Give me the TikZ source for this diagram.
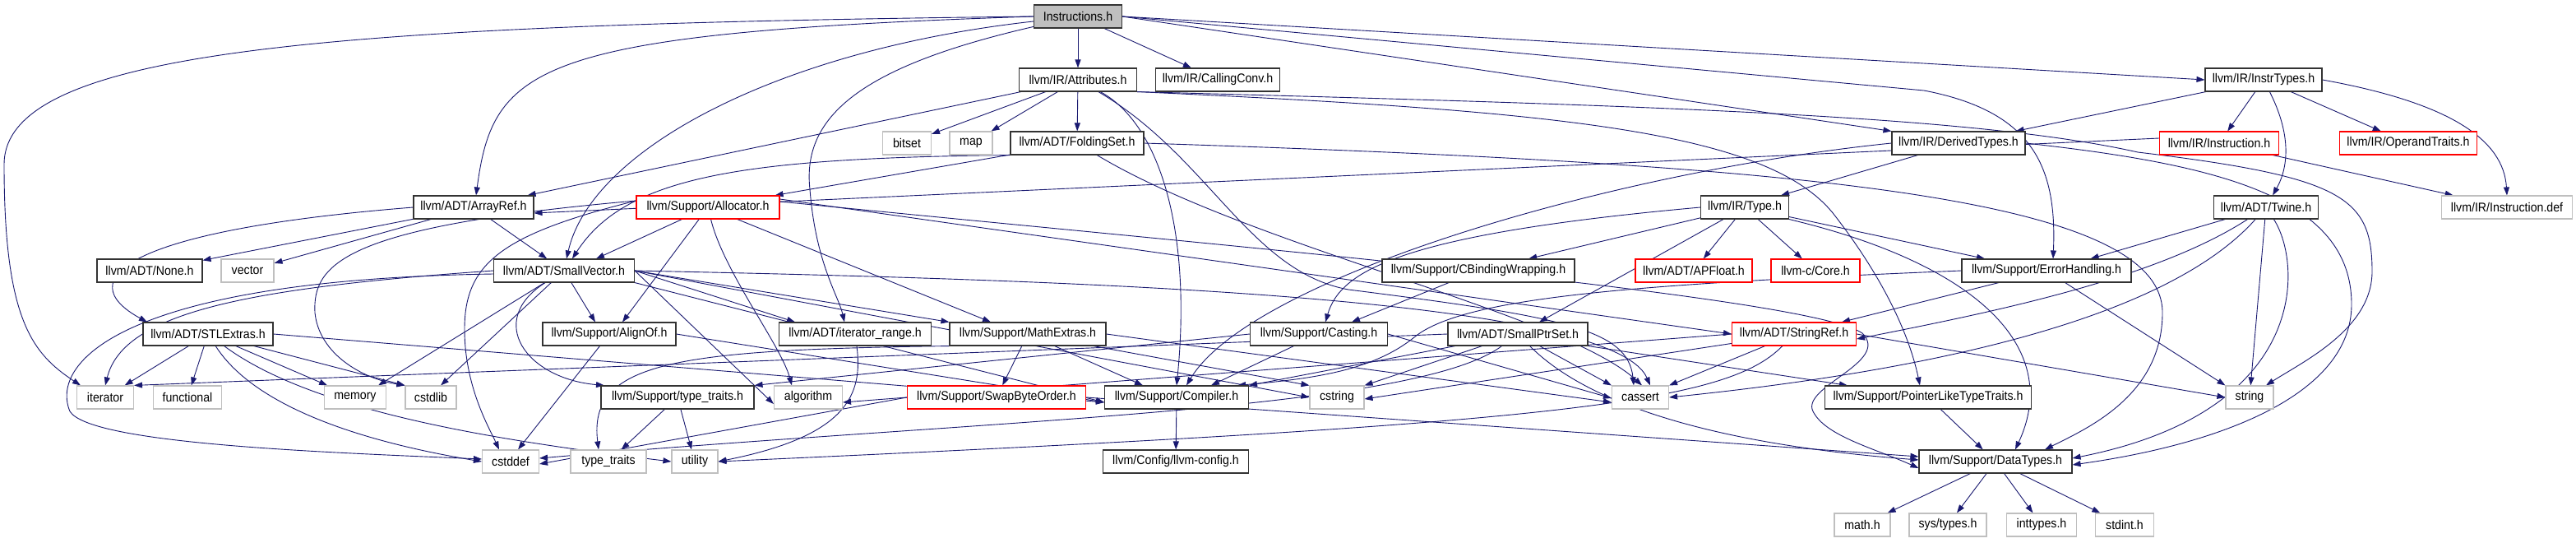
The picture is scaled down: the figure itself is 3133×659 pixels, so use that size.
\documentclass[tikz,border=0pt]{standalone}
\usepackage{fontspec}
\setmainfont{Liberation Sans}[FakeStretch=0.92]
\usetikzlibrary{arrows.meta}
\definecolor{eblue}{HTML}{191970}
\definecolor{gborder}{HTML}{BFBFBF}
\definecolor{rootfill}{HTML}{BFBFBF}
\definecolor{nborder}{HTML}{333333}
\pgfdeclarelayer{bg}
\pgfsetlayers{bg,main}
\newcommand\fsz{\fontsize{15.4}{17}\selectfont}
\tikzset{
  nb/.style={draw=nborder, line width=1.1pt, fill=white, minimum height=28pt, inner sep=0pt, font=\fsz},
  gb/.style={nb, draw=gborder},
  rb/.style={nb, draw=red},
  root/.style={nb, fill=rootfill},
  e/.style={draw=eblue, line width=0.9pt, -{Triangle[length=10pt,width=7pt,fill=eblue]}},
}
\begin{document}
\begin{tikzpicture}[x=1pt,y=-1pt]
\useasboundingbox (0,0) rectangle (3133,659);
% row 0
\node[root,minimum width=107pt] (instr) at (1311,20) {Instructions.h};
% row 1
\node[nb,minimum width=143pt] (attr) at (1311,97) {llvm/IR/Attributes.h};
\node[nb,minimum width=151pt] (callconv) at (1481,97) {llvm/IR/CallingConv.h};
\node[nb,minimum width=142pt] (instrtypes) at (2753,97) {llvm/IR/InstrTypes.h};
% row 2
\node[gb,minimum width=59pt] (bitset) at (1103,174) {bitset};
\node[gb,minimum width=52pt] (map) at (1181,174) {map};
\node[nb,minimum width=162pt] (folding) at (1310,174) {llvm/ADT/FoldingSet.h};
\node[nb,minimum width=162pt] (derived) at (2382,174) {llvm/IR/DerivedTypes.h};
\node[rb,minimum width=145pt] (instruction) at (2699,174) {llvm/IR/Instruction.h};
\node[rb,minimum width=167pt] (operand) at (2929,174) {llvm/IR/OperandTraits.h};
% row 3
\node[nb,minimum width=146pt] (arrayref) at (576,252) {llvm/ADT/ArrayRef.h};
\node[rb,minimum width=174pt] (allocator) at (861,252) {llvm/Support/Allocator.h};
\node[nb,minimum width=107pt] (type) at (2122,252) {llvm/IR/Type.h};
\node[nb,minimum width=127pt] (twine) at (2756,252) {llvm/ADT/Twine.h};
\node[gb,minimum width=159pt] (instdef) at (3049,252) {llvm/IR/Instruction.def};
% row 4
\node[nb,minimum width=128pt] (none) at (182,329) {llvm/ADT/None.h};
\node[gb,minimum width=64pt] (vector) at (301,329) {vector};
\node[nb,minimum width=171pt] (smallvec) at (686,329) {llvm/ADT/SmallVector.h};
\node[nb,minimum width=234pt] (cbinding) at (1798,329) {llvm/Support/CBindingWrapping.h};
\node[rb,minimum width=142pt] (apfloat) at (2060,329) {llvm/ADT/APFloat.h};
\node[rb,minimum width=108pt] (core) at (2208,329) {llvm-c/Core.h};
\node[nb,minimum width=206pt] (errhand) at (2489,329) {llvm/Support/ErrorHandling.h};
% row 5
\node[nb,minimum width=158pt] (stlextras) at (253,406) {llvm/ADT/STLExtras.h};
\node[nb,minimum width=162pt] (alignof) at (741,406) {llvm/Support/AlignOf.h};
\node[nb,minimum width=185pt] (itrange) at (1040,406) {llvm/ADT/iterator\_range.h};
\node[nb,minimum width=190pt] (mathext) at (1250,406) {llvm/Support/MathExtras.h};
\node[nb,minimum width=167pt] (casting) at (1604,406) {llvm/Support/Casting.h};
\node[nb,minimum width=170pt] (smallptr) at (1846,406) {llvm/ADT/SmallPtrSet.h};
\node[rb,minimum width=151pt] (stringref) at (2182,406) {llvm/ADT/StringRef.h};
% row 6
\node[gb,minimum width=69pt] (iterator) at (128,483) {iterator};
\node[gb,minimum width=83pt] (functional) at (228,483) {functional};
\node[gb,minimum width=75pt] (memory) at (432,483) {memory};
\node[gb,minimum width=62pt] (cstdlib) at (524,483) {cstdlib};
\node[nb,minimum width=186pt] (typetraitsh) at (824,483) {llvm/Support/type\_traits.h};
\node[gb,minimum width=83pt] (algorithm) at (983,483) {algorithm};
\node[rb,minimum width=217pt] (swap) at (1212,483) {llvm/Support/SwapByteOrder.h};
\node[nb,minimum width=175pt] (compiler) at (1431,483) {llvm/Support/Compiler.h};
\node[gb,minimum width=66pt] (cstring) at (1626,483) {cstring};
\node[gb,minimum width=69pt] (cassert) at (1995,483) {cassert};
\node[nb,minimum width=251pt] (pointerlike) at (2345,483) {llvm/Support/PointerLikeTypeTraits.h};
\node[gb,minimum width=58pt] (string) at (2736,483) {string};
% row 7
\node[gb,minimum width=69pt] (cstddef) at (621,561) {cstddef};
\node[gb,minimum width=92pt] (typetraits) at (740,561) {type\_traits};
\node[gb,minimum width=56pt] (utility) at (845,561) {utility};
\node[nb,minimum width=177pt] (llvmconfig) at (1430,561) {llvm/Config/llvm-config.h};
\node[nb,minimum width=186pt] (datatypes) at (2427,561) {llvm/Support/DataTypes.h};
% row 8
\node[gb,minimum width=68pt] (math) at (2265,638) {math.h};
\node[gb,minimum width=94pt] (systypes) at (2369,638) {sys/types.h};
\node[gb,minimum width=85pt] (inttypes) at (2483,638) {inttypes.h};
\node[gb,minimum width=71pt] (stdint) at (2584,638) {stdint.h};

\begin{pgfonlayer}{bg}
\fill[white] (0,0) rectangle (3133,659);
% Instructions.h
\draw[e] (instr.west) .. controls (400,30) and (5,60) .. (5,200) .. controls (5,390) and (40,430) .. ([xshift=-30]iterator.north);
\draw[e] (instr.west) .. controls (650,40) and (600,80) .. ([xshift=3]arrayref.north);
\draw[e] (instr) .. controls (950,60) and (720,180) .. ([xshift=3]smallvec.north);
\draw[e] (instr) -- (attr);
\draw[e] (instr) -- (callconv);
\draw[e] (instr.east) -- (instrtypes.west);
\draw[e] (instr.east) -- (derived.north west);
\draw[e] (instr.east) -- (2340,110) .. controls (2470,135) and (2502,200) .. ([xshift=8]errhand.north);
\draw[e] (instr) .. controls (1050,80) and (975,140) .. (985,230) .. controls (992,320) and (1020,360) .. ([xshift=-13]itrange.north);
% Attributes.h
\draw[e] (attr) -- ([xshift=-8]arrayref.north east);
\draw[e] (attr) -- (bitset);
\draw[e] (attr) -- (map);
\draw[e] (attr) -- (folding);
\draw[e] (attr) .. controls (1410,150) and (1450,280) .. (compiler.north);
\draw[e] (attr) .. controls (1470,190) and (1520,330) .. (1640,352) .. controls (1900,385) and (1980,400) .. ([xshift=-8]cassert.north);
\draw[e] (attr.south east) .. controls (1900,135) and (2150,160) .. (2230,260) .. controls (2300,350) and (2325,420) .. ([xshift=-10]pointerlike.north);
\draw[e] (attr.south east) .. controls (2000,128) and (2400,140) .. (2600,185) .. controls (2850,215) and (2885,240) .. (2885,330) .. controls (2885,400) and (2800,440) .. ([xshift=20]string.north);
% InstrTypes.h
\draw[e] (instrtypes) -- ([xshift=-12]derived.north east);
\draw[e] (instrtypes) -- (instruction);
\draw[e] (instrtypes) .. controls (2785,160) and (2785,200) .. (twine);
\draw[e] (instrtypes) -- (operand);
\draw[e] (instrtypes.east) .. controls (2980,125) and (3045,170) .. (instdef.north);
% Instruction.h
\draw[e] (instruction) -- (instdef);
\draw[e] ([yshift=6]instruction.west) -- ([yshift=-7]arrayref.east);
% FoldingSet.h
\draw[e] (folding.south west) .. controls (900,192) and (760,215) .. ([xshift=10]smallvec.north);
\draw[e] (folding) -- ([xshift=-6]allocator.north east);
\draw[e] (folding.east) .. controls (2200,200) and (2630,240) .. (2630,380) .. controls (2630,480) and (2540,520) .. ([xshift=60]datatypes.north);
\draw[e] (folding) .. controls (1520,300) and (1900,380) .. ([xshift=2]cassert.north);
% DerivedTypes.h
\draw[e] (derived) -- ([xshift=-10]type.north east);
\draw[e] (derived.west) .. controls (1950,210) and (1520,340) .. ([xshift=12]compiler.north);
\draw[e] (derived.east) .. controls (2700,200) and (2860,240) .. (2860,370) .. controls (2860,480) and (2700,540) .. ([yshift=-4]datatypes.east);
% ArrayRef.h
\draw[e] (arrayref) -- (none);
\draw[e] (arrayref) -- (vector);
\draw[e] (arrayref) -- (smallvec);
\draw[e] (arrayref.west) .. controls (150,280) and (85,340) .. ([xshift=-74]stlextras.north);
% Allocator.h
\draw[e] (allocator) -- ([xshift=39]smallvec.north);
\draw[e] (allocator) -- ([xshift=16]alignof.north);
\draw[e] (allocator) .. controls (880,330) and (950,420) .. ([xshift=-20]algorithm.north);
\draw[e] (allocator) -- ([xshift=-45]mathext.north);
\draw[e] ([yshift=10]allocator.east) -- (stringref.west);
\draw[e] ([yshift=7]allocator.east) .. controls (1500,300) and (2200,360) .. (2265,405) .. controls (2300,440) and (2190,470) .. (2205,500) .. controls (2220,530) and (2280,545) .. ([yshift=-8]datatypes.west);
\draw[e] ([yshift=8]allocator.west) .. controls (420,275) and (380,320) .. (383,380) .. controls (388,430) and (440,460) .. (cstdlib.north west);
\draw[e] ([yshift=8]allocator.west) .. controls (610,285) and (565,320) .. (565,400) .. controls (565,470) and (595,520) .. ([xshift=-14]cstddef.north);
% Type.h
\draw[e] (type.west) .. controls (1700,285) and (1630,330) .. ([xshift=8]casting.north);
\draw[e] (type) -- (cbinding);
\draw[e] (type) -- (smallptr);
\draw[e] (type) -- (apfloat);
\draw[e] (type) -- (core);
\draw[e] (type) -- ([xshift=-75]errhand.north);
\draw[e] (type.south east) .. controls (2400,320) and (2510,420) .. ([xshift=24]datatypes.north);
% Twine.h
\draw[e] (twine) -- ([xshift=-50]errhand.north east);
\draw[e] (twine) .. controls (2620,340) and (2420,380) .. ([yshift=-6]stringref.east);
\draw[e] (twine) .. controls (2660,360) and (2450,440) .. (cassert.east);
\draw[e] (twine) -- (string);
\draw[e] (twine) .. controls (2800,320) and (2810,500) .. ([yshift=4]datatypes.east);
% ErrorHandling.h
\draw[e] (errhand.west) .. controls (2000,345) and (1780,360) .. (1720,410) .. controls (1670,450) and (1600,460) .. ([xshift=-14]compiler.north east);
\draw[e] (errhand) -- ([xshift=58]stringref.north);
\draw[e] (errhand) -- (string.north west);
% SmallVector.h
\draw[e] (smallvec.west) .. controls (300,350) and (150,380) .. (iterator.north);
\draw[e] ([yshift=-4]smallvec.west) .. controls (150,340) and (60,440) .. (85,500) .. controls (110,540) and (400,550) .. ([yshift=3]cstddef.west);
\draw[e] (smallvec) -- ([xshift=-10]memory.north east);
\draw[e] (smallvec) -- ([xshift=12]cstdlib.north);
\draw[e] (smallvec) .. controls (590,390) and (640,460) .. ([xshift=-89]typetraitsh.north);
\draw[e] (smallvec) -- ([xshift=-17]alignof.north);
\draw[e] (smallvec.south east) -- ([yshift=-6]compiler.west);
\draw[e] (smallvec.east) -- (mathext.north west);
\draw[e] (smallvec.east) -- ([xshift=-73]itrange.north);
\draw[e] (smallvec.east) .. controls (1300,340) and (1960,360) .. ([xshift=12]cassert.north);
\draw[e] (smallvec.east) -- (cstring.west);
\draw[e] (smallvec.east) -- ([yshift=-8]algorithm.west);
% STLExtras.h
\draw[e] (stlextras) -- (iterator);
\draw[e] (stlextras) -- (functional);
\draw[e] (stlextras) .. controls (300,480) and (400,530) .. (cstddef.west);
\draw[e] (stlextras) .. controls (380,500) and (600,535) .. (utility.west);
\draw[e] (stlextras) -- (memory);
\draw[e] (stlextras) -- (cstdlib.north west);
\draw[e] (stlextras.east) -- ([yshift=-6]compiler.west);
% AlignOf.h
\draw[e] (alignof) -- ([xshift=9]cstddef.north);
\draw[e] (alignof.east) -- ([yshift=-6]compiler.west);
% iterator_range.h
\draw[e] (itrange) .. controls (1050,480) and (1030,530) .. (utility.east);
% MathExtras.h
\draw[e] (mathext) -- (swap);
\draw[e] (mathext) -- ([xshift=-41]compiler.north);
\draw[e] (mathext.south west) .. controls (820,425) and (715,440) .. ([xshift=-12]typetraits.north);
\draw[e] (mathext.east) -- ([yshift=-6]cassert.west);
\draw[e] (mathext) -- (cstring.north west);
% Casting.h
\draw[e] (casting.west) -- (typetraitsh.north east);
\draw[e] (casting) -- ([xshift=42]compiler.north);
\draw[e] (casting.east) -- ([yshift=-1]cassert.west);
% CBindingWrapping.h
\draw[e] (cbinding) -- ([xshift=40]casting.north);
% SmallPtrSet.h
\draw[e] (smallptr) -- (compiler.north east);
\draw[e] (smallptr.west) -- (iterator.north east);
\draw[e] (smallptr) -- (cstring.north east);
\draw[e] (smallptr) .. controls (1720,500) and (1200,510) .. ([yshift=4]cstddef.east);
\draw[e] (smallptr) .. controls (1950,510) and (2150,545) .. ([yshift=2]datatypes.west);
\draw[e] (smallptr) -- (cassert.north west);
\draw[e] (smallptr.south east) -- ([xshift=-98]pointerlike.north);
% StringRef.h
\draw[e] (stringref.west) -- ([yshift=-6]algorithm.east);
\draw[e] (stringref) -- ([yshift=-2]cstring.east);
\draw[e] (stringref) -- (cassert.north east);
\draw[e] (stringref) .. controls (2100,490) and (1900,515) .. (utility.east);
\draw[e] (stringref.east) -- (string.west);
% SwapByteOrder.h
\draw[e] (swap.west) -- ([yshift=-3]cstddef.east);
\draw[e] (swap.east) -- ([yshift=6]datatypes.west);
% type_traits.h
\draw[e] (typetraitsh) -- (typetraits);
\draw[e] (typetraitsh) -- (utility);
% Compiler.h
\draw[e] (compiler) -- (llvmconfig);
% PointerLikeTypeTraits.h
\draw[e] (pointerlike) -- (datatypes);
% DataTypes.h
\draw[e] (datatypes) -- (math);
\draw[e] (datatypes) -- (systypes);
\draw[e] (datatypes) -- (inttypes);
\draw[e] (datatypes) -- (stdint);
\end{pgfonlayer}
\end{tikzpicture}
\end{document}
